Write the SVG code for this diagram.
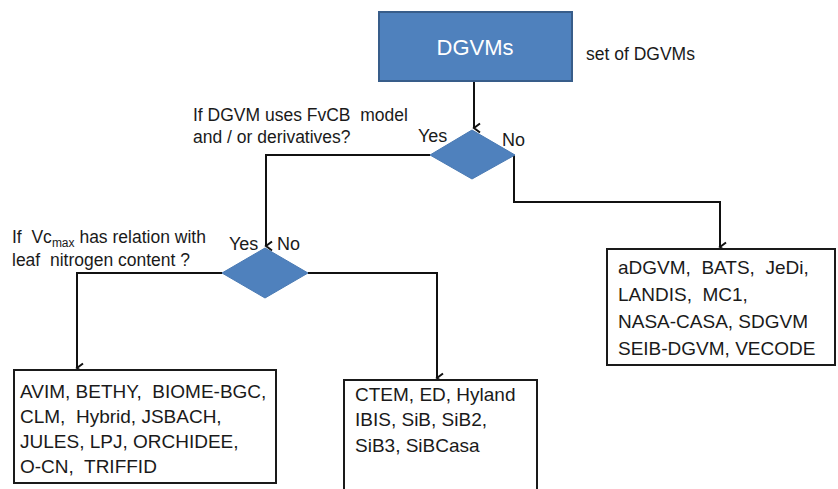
<svg xmlns="http://www.w3.org/2000/svg" width="838" height="489" viewBox="0 0 838 489" xml:space="preserve">
<style>
text{font-family:"Liberation Sans",Arial,sans-serif;fill:#1a1a1a;white-space:pre}
.q{font-size:17.5px}
.lst{font-size:19px}
.yn{font-size:18px}
.box{fill:#fff;stroke:#1a1a1a;stroke-width:2}
.dia{fill:#4f81bd;stroke:#4a7ab3;stroke-width:1}
.con{fill:none;stroke:#111;stroke-width:2;marker-end:url(#arr)}
</style>
<defs>
<marker id="arr" markerWidth="12" markerHeight="12" refX="6" refY="10" orient="auto-start-reverse" markerUnits="userSpaceOnUse" viewBox="0 0 12 12">
<path d="M1.5 4 L6 10 L10.5 4" fill="none" stroke="#111" stroke-width="2"/>
</marker>
</defs>
<rect width="838" height="489" fill="#fff"/>
<g id="connectors">
<path class="con" d="M474 81 V128"/>
<path class="con" d="M430 155 H266 V246"/>
<path class="con" d="M514 155 V202 H720 V247"/>
<path class="con" d="M222 273 H77 V368"/>
<path class="con" d="M308 273 H437 V378"/>
</g>
<g id="dgvms">
<rect x="379" y="12" width="193" height="69" fill="#4f81bd" stroke="#385d8a" stroke-width="2"/>
<text x="475" y="55" font-size="22" text-anchor="middle" style="fill:#fff">DGVMs</text>
</g>
<g id="set-label"><text x="586" y="60" font-size="17.5">set of DGVMs</text></g>
<g id="decision1">
<path class="dia" d="M472 130 L515 155 L472 179 L430 155 Z"/>
<text class="yn" x="418" y="142">Yes</text>
<text class="yn" x="502" y="146">No</text>
</g>
<g id="question1">
<text class="q" x="193" y="121">If DGVM uses FvCB  model</text>
<text class="q" x="193" y="143">and / or derivatives?</text>
</g>
<g id="decision2">
<path class="dia" d="M265 248 L308 273 L265 298 L222 273 Z"/>
<text class="yn" x="229" y="250">Yes</text>
<text class="yn" x="277" y="250">No</text>
</g>
<g id="question2">
<text class="q" x="12" y="243">If  Vc<tspan font-size="12" dy="4">max</tspan><tspan dy="-4"> has relation with</tspan></text>
<text class="q" x="12" y="266">leaf  nitrogen content ?</text>
</g>
<g id="box-right">
<rect class="box" x="607" y="249" width="228" height="116"/>
<text class="lst" x="618" y="274">aDGVM,  BATS,  JeDi,</text>
<text class="lst" x="618" y="301">LANDIS,  MC1,</text>
<text class="lst" x="618" y="328">NASA-CASA, SDGVM</text>
<text class="lst" x="618" y="355">SEIB-DGVM, VECODE</text>
</g>
<g id="box-left">
<rect class="box" x="14" y="370" width="262" height="113"/>
<text class="lst" x="20" y="398">AVIM, BETHY,  BIOME-BGC,</text>
<text class="lst" x="20" y="423">CLM,  Hybrid, JSBACH,</text>
<text class="lst" x="20" y="448">JULES, LPJ, ORCHIDEE,</text>
<text class="lst" x="20" y="473">O-CN,  TRIFFID</text>
</g>
<g id="box-middle">
<rect class="box" x="344" y="380" width="193" height="120"/>
<text class="lst" x="355" y="401">CTEM, ED, Hyland</text>
<text class="lst" x="355" y="426">IBIS, SiB, SiB2,</text>
<text class="lst" x="355" y="452">SiB3, SiBCasa</text>
</g>
</svg>
